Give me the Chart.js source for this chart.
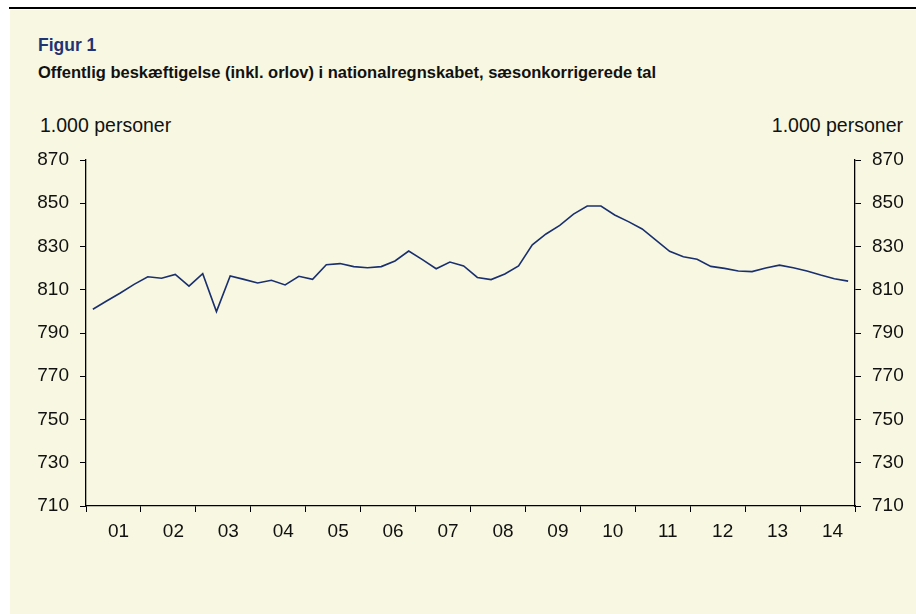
<!DOCTYPE html>
<html>
<head>
<meta charset="utf-8">
<script src="https://cdn.jsdelivr.net/npm/chart.js@4.4.1/dist/chart.umd.min.js"></script>
<style>
    html, body { margin: 0; padding: 0; background: #ffffff; }
    #page { position: relative; width: 916px; height: 614px; overflow: hidden; font-family: "Liberation Sans", Arial, sans-serif; }
    #panel { position: absolute; left: 10px; top: 10px; right: 0; bottom: 0; background: #F8F8E2; }
    #rule { position: absolute; left: 9px; top: 7px; right: 0; height: 2px; background: #000; }
    .txt { position: absolute; line-height: 1; white-space: nowrap; }
    #fig { left: 38px; top: 37px; font-size: 17.5px; font-weight: bold; color: #1F3474; }
    #sub { left: 38px; top: 64px; font-size: 16.5px; font-weight: bold; color: #111; }
    #unitL { left: 40px; top: 116px; font-size: 19.5px; color: #111; }
    #unitR { right: 13px; top: 116px; font-size: 19.5px; color: #111; }
    #chartBox { position: absolute; left: 0; top: 0; width: 916px; height: 614px; }
</style>
</head>
<body>
<div id="page">
    <div id="panel"></div>
    <div id="rule"></div>
    <div class="txt" id="fig">Figur 1</div>
    <div class="txt" id="sub">Offentlig beskæftigelse (inkl. orlov) i nationalregnskabet, sæsonkorrigerede tal</div>
    <div class="txt" id="unitL">1.000 personer</div>
    <div class="txt" id="unitR">1.000 personer</div>
    <div id="chartBox"><canvas id="chart" width="916" height="614"></canvas></div>
</div>
<script>
(function () {
    'use strict';

    // Year labels, one per 4 quarters (2001-2014).
    var yearLabels = ['01', '02', '03', '04', '05', '06', '07', '08', '09', '10', '11', '12', '13', '14'];

    // Public employment, 1.000 persons, quarterly 2001Q1 - 2014Q4.
    var employment = [
        801.0, 804.8, 808.5, 812.5, 816.0, 815.3, 817.1, 811.7,
        817.4, 799.9, 816.4, 814.8, 813.1, 814.4, 812.2, 816.2,
        814.8, 821.6, 822.1, 820.7, 820.2, 820.7, 823.3, 827.9,
        823.9, 819.7, 822.8, 821.0, 815.7, 814.7, 817.3, 821.0,
        830.8, 835.8, 839.8, 845.0, 848.7, 848.7, 844.6, 841.5,
        838.1, 833.0, 827.8, 825.3, 824.1, 820.8, 819.9, 818.7,
        818.4, 820.1, 821.4, 820.2, 818.7, 816.8, 815.1, 814.0
    ];

    var yMin = 710;
    var yMax = 870;
    var yStep = 20;

    var font = '"Liberation Sans", Arial, sans-serif';
    var ink = '#111111';

    document.addEventListener('DOMContentLoaded', function () {
        initChart();
    });

    function initChart() {
        var canvas = document.getElementById('chart');
        if (!canvas || typeof Chart === 'undefined') {
            return;
        }

        var points = employment.map(function (v, i) {
            return { x: i + 0.5, y: v };
        });

        var yAxis = function (pos) {
            return {
                type: 'linear',
                position: pos,
                min: yMin,
                max: yMax,
                afterFit: function (scale) {
                    scale.width = pos === 'left' ? 86 : 61;
                },
                ticks: {
                    stepSize: yStep,
                    color: ink,
                    padding: 11,
                    font: { family: font, size: 19 }
                },
                grid: {
                    drawOnChartArea: false,
                    drawTicks: true,
                    tickLength: 6,
                    color: '#000'
                },
                border: { display: true, color: '#000', width: 1.3 }
            };
        };

        new Chart(canvas.getContext('2d'), {
            type: 'line',
            data: {
                datasets: [{
                    label: 'Offentlig beskæftigelse',
                    data: points,
                    borderColor: '#1A2F6E',
                    borderWidth: 1.6,
                    pointRadius: 0,
                    tension: 0,
                    fill: false,
                    yAxisID: 'y'
                }, {
                    // empty set so the right axis is drawn as well
                    label: '',
                    data: [],
                    yAxisID: 'y2'
                }]
            },
            options: {
                responsive: false,
                animation: false,
                layout: {
                    padding: { left: 0, right: 0, top: 160, bottom: 0 }
                },
                plugins: {
                    legend: { display: false },
                    tooltip: { enabled: false }
                },
                scales: {
                    x: {
                        type: 'linear',
                        min: 0,
                        max: yearLabels.length * 4,
                        afterFit: function (scale) {
                            scale.height = 108;
                        },
                        afterBuildTicks: function (scale) {
                            var ticks = [];
                            for (var v = 0; v <= yearLabels.length * 4; v += 2) {
                                ticks.push({ value: v });
                            }
                            scale.ticks = ticks;
                        },
                        ticks: {
                            autoSkip: false,
                            maxRotation: 0,
                            color: ink,
                            padding: 8,
                            labelOffset: 5,
                            font: { family: font, size: 19 },
                            callback: function (value) {
                                if (value % 4 === 2) {
                                    return yearLabels[(value - 2) / 4];
                                }
                                return '';
                            }
                        },
                        grid: {
                            drawOnChartArea: false,
                            drawTicks: true,
                            tickLength: 6,
                            color: function (ctx) {
                                if (ctx.tick && ctx.tick.value % 4 === 0) {
                                    return '#000';
                                }
                                return 'rgba(0,0,0,0)';
                            }
                        },
                        border: { display: true, color: '#000', width: 1.3 }
                    },
                    y: yAxis('left'),
                    y2: yAxis('right')
                }
            }
        });
    }
})();
</script>
</body>
</html>
